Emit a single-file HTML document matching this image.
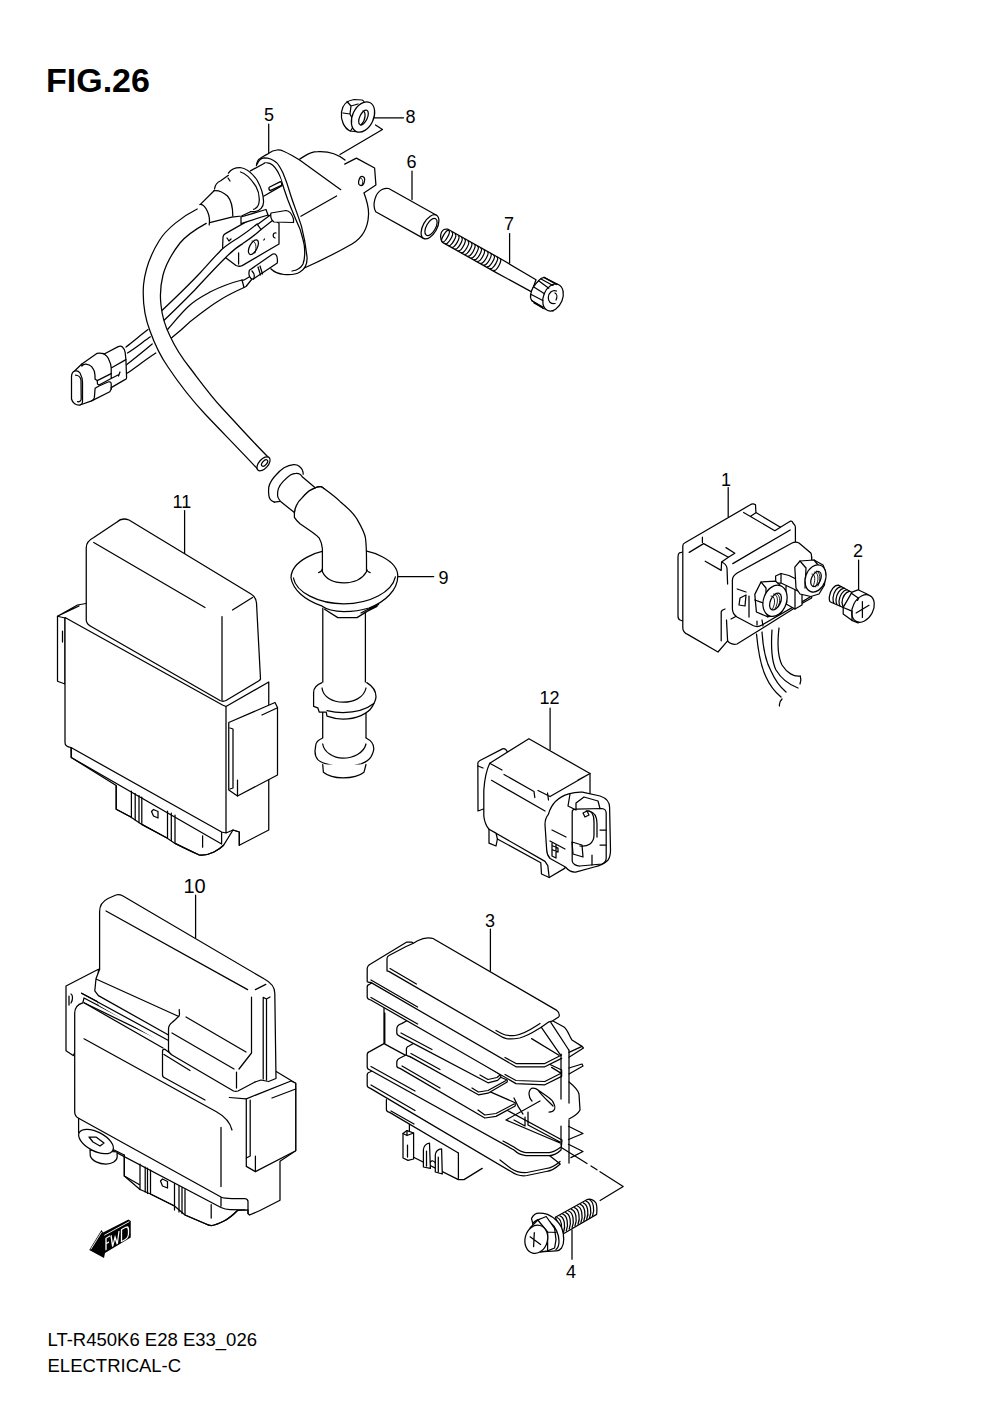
<!DOCTYPE html>
<html><head><meta charset="utf-8"><style>
html,body{margin:0;padding:0;background:#fff;}
body{width:1000px;height:1414px;overflow:hidden;position:relative;}
svg{position:absolute;left:0;top:0;}
.t{font-family:"Liberation Sans",sans-serif;fill:#000;}
.s{fill:none;stroke:#000;stroke-width:1.25;stroke-linecap:round;stroke-linejoin:round;}
.w{fill:#fff;stroke:#000;stroke-width:1.25;stroke-linecap:round;stroke-linejoin:round;}
</style></head><body>
<svg width="1000" height="1414" viewBox="0 0 1000 1414">
<g class="t">
<text x="46" y="91.5" font-size="34" font-weight="bold">FIG.26</text>
<text x="264" y="121" font-size="18">5</text>
<text x="405.5" y="122.5" font-size="18">8</text>
<text x="406.5" y="167.5" font-size="18">6</text>
<text x="504" y="230" font-size="18">7</text>
<text x="172.5" y="508" font-size="18">11</text>
<text x="438.5" y="583.5" font-size="18">9</text>
<text x="721" y="485.5" font-size="18">1</text>
<text x="853" y="556.5" font-size="18">2</text>
<text x="539.5" y="703.5" font-size="18">12</text>
<text x="183.5" y="893" font-size="20">10</text>
<text x="485" y="926.5" font-size="18">3</text>
<text x="566" y="1277.5" font-size="18">4</text>
<text x="47.5" y="1345.6" font-size="18.5">LT-R450K6 E28 E33_026</text>
<text x="47.5" y="1372" font-size="18.5">ELECTRICAL-C</text>
</g>
<g class="s">
<!-- leaders -->
<path d="M268.7,124 L268.7,153"/>
<path d="M374,117.8 L403.5,117.8"/>
<path d="M412,171 L412,199.5"/>
<path d="M509.6,233.6 L509.6,263"/>
<path d="M340,154.5 L382.5,129.5 L375.5,125"/>
</g>
<!-- coil body -->
<g class="s">
<path class="w" d="M299.6,159.2 C303,157 307,154 310.8,152.8 C313,152 315.5,151.6 318,151.6 C333,151 347,160 356,174 C364,187 369,202 368.5,215 C368,228 362,238 352,244 C338,252 318,262 300,270 L289,274.5 Z" style="stroke:none"/>
<path d="M299.6,159.2 C303,157 307,154 310.8,152.8 C313,152 315.5,151.6 318,151.6 C330,151 339,155 345,160 M364,193 C367,201 369,208 368.5,215 C368,228 362,238 352,244 C338,252 318,262 300,270 L292,274"/>
<path class="w" d="M344.7,164.1 L356.4,158.1 L374.6,168 L375.9,184.9 L364.2,192.7 C362,190 360,186 358,183 Z" style="stroke:none"/>
<path d="M344.7,164.1 L356.4,158.1 L374.6,168 L375.9,184.9 L364.2,192.7"/>
<ellipse cx="361.6" cy="181" rx="2.8" ry="4.6" transform="rotate(15 361.6 181)"/>
<path d="M360.5,178 C362.5,178 363.5,182 362,185" style="stroke-width:0.9"/>
<!-- dome + ring -->
<path class="w" d="M256.4,165.6 C257,161 258,159.5 260,158.5 C263,156.5 266,154.5 268.4,153.6 C271,151.5 274,150.2 277.2,150 C280,149.8 282,150.5 283.6,151.2 C286,152.3 289,153.8 291.6,155.2 L299.6,160 L340.8,189.7 L336.6,196 L300.9,216.3 L307,257 C307.5,264 305,269 300,272 C296,274.5 290,275 284,274.5 C279,274 274,272 270.8,268.8 Z" style="stroke:none"/>
<path d="M256.4,165.6 C257,161 258,159.5 260,158.5 C263,156.5 266,154.5 268.4,153.6 C271,151.5 274,150.2 277.2,150 C280,149.8 282,150.5 283.6,151.2 C286,152.3 289,153.8 291.6,155.2 L299.6,160 L340.8,189.7"/>
<path d="M257.2,164 C259,160 261,158 264,157.8 C268,157.8 273,159.5 276.4,162.4 C279,165 281,169 283,173 C286,180 288,186 290,193 C293,203 298,215 301.6,226.8 C304,236 306,247 307,257 C307.5,264 305,269 300,272 C296,274.5 290,275 284,274.5 C279,274 274,272 270.8,268.8"/>
<path d="M264.4,163.2 C267,162.5 270,163 272.5,165 C276,168 279,173 281.2,180 C283,186 285,192 287.6,199.2 C291,208 296,220 300.2,229.6 C302,236 304,242 304.4,246.4 C305,253 305,259 303,264 C301,268 297,270.5 292,271"/>
<path d="M300.9,216.3 L336.6,196"/>
<!-- collar -->
<path class="w" d="M250.4,170.9 L264.4,163.2 C270,163 276,168 281,180 L282,185.6 L263.6,196.2 Z" style="stroke:none"/>
<path d="M250.4,170.9 L264.4,163.2 M263.6,196.2 L282,185.6"/>
<path d="M269.2,187.2 L280.4,181.6 C281.5,182 282,184 281.5,185.3 L270.2,190.6 C269,190 268.7,188.5 269.2,187.2 Z"/>
</g>
<g class="s">
<!-- boot flange -->
<path class="w" d="M228.4,173.1 C231,169 235,167.5 240,167.5 C246,168 252,173 257,180 C261,187 263.5,195 263.6,201.7 C263.5,207 260,211 255,211.6 L250.4,211.6 L240,214 Z" style="stroke:none"/>
<path d="M228.4,173.1 C231,169 235,167.5 240,167.5 C246,168 252,173 257,180 C261,187 263.5,195 263.6,201.7 C263.5,207 260,211 255,211.6 L250.4,211.6"/>
<path d="M240.5,172 C245,173 251,179 255.9,186.3 C258.5,191 259.5,197 259.2,201 C259,205 257,208 253.7,209.4"/>
<!-- boot -->
<path class="w" d="M200.9,203.9 L214.1,190.7 L214.5,189 C215,185 218,182 220.7,180.8 L228.4,175.3 L240,214 L231.7,217.1 L209.7,222.6 C210,216 208,209 200.9,203.9 Z" style="stroke:none"/>
<path d="M200.9,203.9 L214.1,190.7 M214.5,189 C215,185 218,182 220.7,180.8 L228.4,175.3"/>
<path d="M214.1,190.7 C219,190 224,192.9 227.5,196 C231,200 232.8,207 232.8,216"/>
<path d="M209.7,222.6 L231.7,217.1 L241.6,216 L250,212"/>
<path d="M199.8,204.5 C202,204 205,206 207.5,211.6 C209,215 210,220 209.2,224.8"/>
<path d="M228,178 L230,181"/>
</g>
<!-- terminal block -->
<g class="s">
<path class="w" d="M223,236.8 C223.5,235 224.5,234 225.4,233.6 L262.2,212.8 L264.6,212.8 L279,223.2 L279,244 L242.2,265.6 C240,266.5 238,266.5 236,265.5 L225.4,257.6 C223.5,255 222.6,252 222.6,248 Z"/>
<ellipse cx="253.4" cy="247.2" rx="3.8" ry="8" transform="rotate(28 253.4 247.2)"/>
<path d="M252,241 C256,241 257,247 255,253" style="stroke-width:0.9"/>
<path d="M238.6,252.8 L238.6,264 M263.8,240 L264.5,239 M276,233 C273,232 272,237 275,238 M227,238 L229,241 L231,239"/>
</g>
<!-- wires (behind HT cable) -->
<g class="s">
<path class="w" d="M155,317 C170,303 185,289 200,273 C210,262 218,253 222,249.2 C228,244 233,241 238,238 C244,234 251,229 256.4,224.4 C259,223 261.5,225 261.5,227.5 C261.5,229 260.8,230 259.6,230.8 C254,236 248,240 242.8,243.6 C237,247 231,252 225.2,258 C215,268 205,279 194.8,290 C184,301 172,313 158,326 Z"/>
<path class="w" d="M160,338 L168,329 C175,321 182,312 190,305 C198,298 205,295 210,292 C220,287 230,283 242,280 L244,287.5 C232,293 226,296 220,300 C213,304 207,309 200,314 C193,319 187,324 181,330 L163,345 Z"/>
<path d="M126,347 C135,340 142,334 148,329.6"/>
<path d="M127.5,353 C137,347 144,341 150.4,336.8"/>
<path d="M125.9,365.2 C135,358.2 145,350 152.2,344"/>
<path d="M126.6,373.6 C135,368 145,360 155.8,353"/>
</g>
<!-- HT cable -->
<g class="s">
<path d="M197.2,209 C183,216 166,229 159,241 C151,254 145,270 143.5,285 C142.5,300 145,318 150,331 C155,345 161,357 168,367 C178,382 190,398 205,414 C222,432 240,450 258.5,470 L268.5,457.5 C251,440 236,423 222,408 C210,395 200,381 190,368 C182,358 175,347 170,336 C165,326 162,316 161,305 C160,297 160.5,285 163,275 C166,264 173,252 180,243 C186,236 196,229 206.2,223.4 Z" style="fill:#fff;stroke:none"/>
<path d="M197.2,209 C183,216 166,229 159,241 C151,254 145,270 143.5,285 C142.5,300 145,318 150,331 C155,345 161,357 168,367 C178,382 190,398 205,414 C222,432 240,450 258.5,470"/>
<path d="M268.5,457.5 C251,440 236,423 222,408 C210,395 200,381 190,368 C182,358 175,347 170,336 C165,326 162,316 161,305 C160,297 160.5,285 163,275 C166,264 173,252 180,243 C186,236 196,229 206.2,223.4"/>
<ellipse cx="263.5" cy="463.8" rx="4.6" ry="8.4" transform="rotate(42 263.5 463.8)" class="w"/>
<ellipse cx="264.6" cy="463" rx="2.1" ry="3.9" transform="rotate(42 264.6 463)"/>
</g>
<!-- connector -->
<g class="s">
<path class="w" d="M74.8,370.8 L81.8,364 L97.2,353.3 C99,352.8 101,352.8 104.2,354 L118.2,346.6 C120,346 121.5,346.2 122.4,347 C124,348.5 125,350.5 125.2,352.6 L125.9,359.6 L126.6,377.8 C126.6,379 125.8,379.7 124.5,379.9 L111.2,387.6 L111.2,389 L109.8,391.8 L91.6,400.9 L80,405 C76,405.5 72.5,403 71.5,399 L71.5,377 C71.5,373.5 73,371.5 74.8,370.8 Z"/>
<path d="M75,371 C77,370.5 79,371.5 80,373 C81.5,376 82.5,379 82.5,382 L82.5,402 C82.5,403.5 81.5,404.5 80,405"/>
<path d="M75.5,375 C78,375 80.5,377 81,380 L81.2,399 C81,401 79.5,402 77.5,401.7"/>
<path d="M81.8,364 L81.8,366 C83,364.5 85,364 86,364.1 C88.5,364.5 90.5,365.5 91.6,366.6 C93,368.5 94,370 94.4,371.5 C95,374 95.1,377 95.1,379.2 L97.2,380.6 L111.2,373.6"/>
<path d="M102.8,353.3 C106,355 108.5,358 109.1,360.3 C110.5,363 111.2,366 111.2,368 L111.2,373.6 M111.2,368 L125.9,359.6"/>
<path d="M97.2,380.6 L97.5,384 L99,385 L111.2,378.5 L111.2,373.6 M111.2,378.5 L118,375 M120,372 L118.5,376"/>
<path d="M95.1,388.3 L94.4,397.4 C94,399.5 93,400.5 91.6,400.9 M95.1,388.3 L99,386 L108,382 C110,381.5 111.2,382 111.2,384 L111.2,389"/>
</g>
<!-- terminal sleeves -->
<path class="w" d="M241,217 L266,209.5 L268,215 L241,223.6 Z"/>
<path class="w" d="M257.5,224.6 L271,214.5 L272.5,220.5 L261,229.5 Z"/>
<path class="s" d="M242,280 L244,280 L250,276.5 M244,287.5 L246,286.5 L252,279"/>
<g class="w">
<path d="M271,213 L286,210.5 C290,211 292,214 293.5,219 L293.5,222.5 L274,222 C271,220 270,216 271,213 Z"/>
<path d="M249.4,270.2 L272.8,254 C276,253 278,256 277.3,263 L253,279.2 C250,279 248,275 249.4,270.2 Z"/>
<path class="s" d="M252,271 C254,273 255,276 253.5,279 M258,267 L260.5,275 M260,266 L262.5,274"/>
</g>
<!-- nut 8 -->
<g class="s">
<path class="w" d="M350,131 C344,128 340.5,120 341.5,112 C342.5,105 347,100.5 354,99.5 L362,100 C368,101 366,130 358,132 Z"/>
<path d="M347,101.5 L351,106 L350,114 L343,113 M350,114 L355,124 L350.5,131 M351,106 L358,104"/>
<ellipse class="w" cx="363" cy="117" rx="10.5" ry="16" transform="rotate(25 363 117)"/>
<ellipse cx="363.5" cy="117.5" rx="3.8" ry="8" transform="rotate(25 363.5 117.5)"/>
<path d="M363,111 C366,112 366,120 361,125"/>
</g>
<!-- spacer 6 -->
<g class="s">
<path class="w" d="M388.7,188.5 L436.5,215.2 L423.5,238.4 L375.7,211.7 C372,205 375,193 382,189.5 C384,188.5 386,188 388.7,188.5 Z"/>
<ellipse class="w" cx="430" cy="226.8" rx="7" ry="13.3" transform="rotate(29.2 430 226.8)"/>
<ellipse cx="431" cy="227" rx="4.6" ry="9.5" transform="rotate(29.2 431 227)"/>
</g>
<!-- bolt 7 -->
<g class="s">
<path class="w" d="M448,229.2 L501,259 L536,279.8 L531.6,291.9 L495.3,272.1 L442.5,242.4 C440,240 439.5,232 444,229.5 C445,229 446.5,229 448,229.2 Z"/>
<g id="thr">
<ellipse cx="445.5" cy="236.2" rx="2.2" ry="6.6" transform="rotate(29.4 445.5 236.2)"/>
<path d="M452.0,232.2 A2.2,6.6 29.4 0 1 445.5,243.7"/>
<path d="M455.2,234.0 A2.2,6.6 29.4 0 1 448.7,245.5"/>
<path d="M458.4,235.8 A2.2,6.6 29.4 0 1 451.9,247.3"/>
<path d="M461.6,237.5 A2.2,6.6 29.4 0 1 455.1,249.0"/>
<path d="M464.8,239.3 A2.2,6.6 29.4 0 1 458.4,250.8"/>
<path d="M468.1,241.1 A2.2,6.6 29.4 0 1 461.6,252.6"/>
<path d="M471.3,242.8 A2.2,6.6 29.4 0 1 464.8,254.3"/>
<path d="M474.5,244.6 A2.2,6.6 29.4 0 1 468.0,256.1"/>
<path d="M477.7,246.4 A2.2,6.6 29.4 0 1 471.2,257.9"/>
<path d="M480.9,248.1 A2.2,6.6 29.4 0 1 474.4,259.6"/>
<path d="M484.1,249.9 A2.2,6.6 29.4 0 1 477.7,261.4"/>
<path d="M487.4,251.7 A2.2,6.6 29.4 0 1 480.9,263.2"/>
<path d="M490.6,253.4 A2.2,6.6 29.4 0 1 484.1,264.9"/>
<path d="M493.8,255.2 A2.2,6.6 29.4 0 1 487.3,266.7"/>
<path d="M497.0,257.0 A2.2,6.6 29.4 0 1 490.5,268.5"/>
<path d="M500.2,258.7 A2.2,6.6 29.4 0 1 493.8,270.3"/>
</g>
<path class="w" d="M544,277.4 L557.2,284 L563,292 L553,311 L543.4,308.5 L532,300.8 C530.5,299 530.3,296 530.8,294 C531.5,289 534,285 538.6,280.7 C540,279 542,277.8 544,277.4 Z"/>
<ellipse class="w" cx="553" cy="297.5" rx="9.6" ry="14" transform="rotate(22 553 297.5)"/>
<path d="M538.6,280.7 L548.8,288.2 M544,277.4 L556.5,284.5 M541,279 L553,285.5 M533.8,287 L544.5,293.8 M530.8,294.2 L542.8,300.5 M532,300.8 L542.8,307 M534,303 L543,308"/>
<path d="M556.5,291 C552,289.5 548.5,293 548.3,297.5 C548.2,301.5 550.5,304 555,303.5 M555,293 C557,294 557.5,297 556,300"/>
</g>
<!-- plug cap 9 -->
<g class="s">
<path d="M398,576.6 L433.7,576.6"/>
<!-- tube below -->
<path d="M322.8,608 L322.8,690 M365.4,612 L365.4,690"/>
<path d="M322.7,712 L322.7,745 M366,710 L366,745"/>
<path d="M324.6,609.2 L337.8,617.6 L357,617.6 L378.6,604.4 M361,613 L375,605.5 M364,613 L377,606.5"/>
<!-- ring 1 -->
<path class="w" d="M322,682.6 C316,685 313.6,688 313.6,692.4 L313.6,706.4 L317.8,707.8 L319.2,712 L326.2,712 L327,716.2 C333,718.5 338,719 343,719 C356,719 368,714 372.4,706.4 C375,702 376,699 376,696.6 C376,692 374,687 366.8,682.6"/>
<path d="M322,688 C323,697 333,702.2 343,702.2 C353,702.2 364,698 366,688"/>
<path d="M327,710.6 C333,712 338,712.5 343,712.5 C356,712.5 367,709 373.8,703.6"/>
<!-- ring 2 -->
<path class="w" d="M322.7,738 C318,740 315.7,743 315.7,745.6 L315,751.2 C315,755 316,757.5 317.8,759.6 C320,762 323,763 326.2,763.8 C331,765.5 337,766.6 343,766.6 C350,766.6 356,765.5 361.2,763.8 C366,762 369,760 371,756.8 C373,753 373.8,751 373.8,748.4 C373.8,744 370,740 366,738"/>
<path d="M322.7,744 C324,752 333,758.2 343,758.2 C353,758.2 364,753 366,744"/>
<!-- end -->
<path class="w" d="M322.7,764.5 L323.4,772.2 C328,776 335,777.8 343,777.8 C352,777.8 360,775.5 364,772.2 L366,764.5"/>
<!-- flange disc -->
<path class="w" d="M291,578 C291,562 315,548.7 344.5,548.7 C374,548.7 397.8,561 397.8,576 C397.8,590 385,602 369,608 C361,610.5 352,611.6 343.8,611.6 C335,611.6 327,610 321,605.6 C305,600 293,590 291,578 Z"/>
<path d="M293.4,578 C296,592 318,603.8 343.8,603.8 C370,603.8 392,592 395.4,576.8"/>
<!-- stalk -->
<path class="w" d="M324,488.6 C330,493 336,497.5 340,501.4 C348,508 354,514 357.1,519.3 C361,526 364.5,532 365.5,538.2 C366.3,545 366.5,552 366.5,560 L366.5,571.8 C362,579.5 353,582.8 344,582.8 C335,582.8 326,579.5 322.4,571.8 L322.4,548.7 C322,545 321,541 319.3,538.2 C318.5,537 316,535 312,532 L300,523.8 C298,522 296,520 294.4,517.4 L294.4,512.6 C294.8,509.5 295.3,507.8 296,506.2 C297.5,502.5 300,499.5 302.4,497.4 C304.5,495 306.5,493 308.8,491 C311,489.5 313,488.4 315.2,487.8 C317,487 319,486.4 320.8,486.6 C322,486.8 323,487.5 324,488.6 Z"/>
<path d="M318.6,572.6 C320.5,572 322,570.5 322.4,569 M370.2,572.6 C368,572 366.8,570.5 366.5,569"/>
<!-- neck -->
<path d="M301.6,476.2 L315.2,487.8 C311,489 306,493 302.4,497.4 C299,501 296.5,505 294.4,512.6 L280,501 Z" style="fill:#fff;stroke:none"/>
<path d="M301.6,476.2 L315.2,487.8 M280,501 L294.4,512.6"/>
<path d="M294.4,512.6 C294.8,509.5 295.3,507.8 296,506.2 C297.5,502.5 300,499.5 302.4,497.4 C304.5,495 306.5,493 308.8,491 C311,489.5 313,488.4 315.2,487.8 C317,487 319,486.4 320.8,486.6 C322,486.8 323,487.5 324,488.6"/>
<!-- flange -->
<path d="M274.4,502.2 C271,501 269,498 268.8,495 C268.5,492 268.5,489 268.8,487 C270,482 273,478 276,475 C279,471.5 281.5,469.5 284,467.8 C287,466 290,464.8 293.6,464.6 C296,464.5 298,465.2 299.2,466.2 C300.8,467.5 302,468.8 302.4,470.2 C303,471.5 303.3,473 303.2,474.2 L301.6,476.2 L280,501.4 Z" style="fill:#fff;stroke:none"/>
<path d="M274.4,502.2 C271,501 269,498 268.8,495 C268.5,492 268.5,489 268.8,487 C270,482 273,478 276,475 C279,471.5 281.5,469.5 284,467.8 C287,466 290,464.8 293.6,464.6 C296,464.5 298,465.2 299.2,466.2 C300.8,467.5 302,468.8 302.4,470.2 C303,471.5 303.3,473 303.2,474.2"/>
<path d="M274.4,502.2 L280,501.4"/>
<path d="M280,500.6 C278.5,499 277.7,497.5 277.6,495.8 C277.5,493 277.7,490.5 278.4,488.6 C279.5,485.5 281.2,483.5 283.2,481.4 C285.5,479 287.8,476.8 290.4,475 C292,474 294,473.4 296,473.4 C297.5,473.3 299,473.6 300,474.2 C300.8,474.7 301.3,475.2 301.6,475.8"/>
</g>
<!-- ECU 11 -->
<g class="s">
<path d="M184.6,510.5 L184.6,553.5"/>
<!-- left flange -->
<path class="w" d="M65,618 L57.5,616.25 L57.5,681.25 L65,684 Z"/>
<path d="M57.5,616.25 L77.5,605 L86,603.5 M59,615.5 L79,606 M62.5,631 L62.5,642"/>
<!-- main front face -->
<path class="w" d="M65,617.5 L222.5,705 L226,706.5 L268.75,682 L268.75,830 L239.3,845.3 L239.3,832 L233,830 L223.5,845.3 C220,849 216,851 214,852 C209,854.5 204,855.5 198.8,854.8 L175,843.4 L166.5,837.7 L141.8,824.4 L130.4,816.8 L116.2,809.2 L116.2,785.5 L71.25,757.5 L71,747.5 C67,747 65,745 65,742.5 Z"/>
<path d="M226,706.5 L226,832.5 M71,747.5 L221.6,832 L226,833 L233,830 L239.3,832 L239.3,845.3 M71.25,747.5 L71.25,757.5 L221.6,844 M221.6,832 L221.6,844"/>
<!-- connectors -->
<path d="M116.2,785.5 L116.2,809.2 L130.4,816.8 M131.4,791 L131.4,817.5 M135.2,793.5 L135.2,820 M139,795.5 L139,822.5 M141.8,797 L141.8,824.4 L166.5,837.7 M167.5,811 L167.5,838 M171.3,813 L171.3,840.5 M175,815 L175,843.4 C182,847 190,851 198.8,854.8 C204,855.5 209,854.5 214,852 C216,851 220,849 223.5,845.3 M202.6,835.8 L202.6,847.2"/>
<path d="M151.5,811.5 L153.5,809.5 L158,811.5 L158,818 L153.5,816 Z"/>
<!-- side box -->
<path class="w" d="M228.75,722.5 L275,702.5 L277.5,707.5 L277.5,775 L237.5,796 L228.75,790 Z"/>
<path d="M230,728 L233,729 L233,788 L230,789 M237.5,796 L237.5,780 M262,715 L277,708"/>
<!-- top cover -->
<path class="w" d="M86.25,620 L86.25,547.5 C86.25,543 89,540 93.75,537.5 L117,522 C120,519 125,518.5 129,520 L251,594 C254.5,596 256,599 256.5,603 L260.5,679 C260,680.5 258,681.5 256,682.5 L226,700.5 C224,701.5 222,701.5 220,700.5 L92,627 C88,625 86.25,623 86.25,620 Z"/>
<path d="M93.75,542.5 L205,607.5 M232.5,610 L252.5,597.5 M222,616.5 L222,700"/>
</g>
<!-- relay 1 -->
<g class="s">
<path d="M728.2,487.6 L728.2,516.8"/>
<!-- wires -->
<path d="M756.5,634 C758,650 760,665 766,677 C770,686 775,692 781,697 M782,699 C780,701 779,703 779.5,706"/>
<path d="M762,632 C763,648 766,662 771,671 C775,680 780,687 786,692"/>
<path d="M772,630 C771,645 771,660 776,670 C782,680 790,685 798,688"/>
<path d="M779,628 C777,645 778,657 782,665 C787,673 794,677 800,676 M800.3,676 C801,678 801,681 800,684"/>
<!-- left plate -->
<path class="w" d="M682.8,552 L679.5,552.8 C678.3,553.5 678,555 678,557 L678,616 C678,618 678.5,619.5 680,620 L682.8,621"/>
<!-- main box -->
<path class="w" d="M682.8,546 C682.8,544.5 683.5,543.5 685,542.8 L750.3,504.8 C751.5,504 753.5,503.5 755.5,504.8 L755.9,512.5 L780.4,527.2 L790.2,521.2 C791.5,520.8 792.5,521.5 793,523 C794.5,524.5 795.4,526 795.4,527.2 L795.4,544 L808,551 C810,552 811.6,554 811.6,557.6 L811.6,598 L801,604 L762.8,628 L737,644 C733,645 729,643 727.6,640.8 L718,652 L687.6,634.4 C684.5,633 682.8,631 682.8,628 Z"/>
<path d="M743.6,512.5 L774.8,530.7 L780.4,527.2 M751,516 L755.9,512.8 M732.8,563.6 L790.2,530 M689.2,552.4 L703.6,543.6 M702.4,537.2 L702.4,542.4 M703.6,543.6 L728.4,557.2 L734.8,553.2 L726,547.6 M705.2,561.2 L721.2,570.4 L721.6,562 L728.4,557.2 M721.6,562 C724,563 726.5,565 727,568 L727.6,584"/>
<!-- lower block -->
<path d="M721.2,612 L721.2,640.8 M725,609 C722,610 721.2,611 721.2,612 M727.6,640.8 L726.5,620 M731,619 L750,609"/>
<!-- terminal block -->
<path class="w" d="M732.4,580 C732.4,577 734,575 737.2,573 L791.6,543.2 C794,542 797,542 799,543 L810.8,553 C811.5,554 811.6,556 811.6,557.6 L811.6,596 L801.2,602.4 L762,625 C759,627 756,627 753,625.5 L737,617 C734,615 732.4,612 732.4,608.8 Z"/>
<path d="M737.2,589 L746,592 M740,598 L746,595 L745,606 L739,605 Z M749,596 L749,617 M757,621 L757,625 M762,620 L763,626"/>
<!-- latch -->
<path class="w" d="M775.6,576 L781,573.5 L789,575.5 L800,581 L802,584 L802,605 L795,609 L779,600 L776,595 Z"/>
<path d="M781,573.5 L781,583 L775.6,583 M781,583 L800,592 M786,586 L786,603 M795,590 L795,609"/>
<!-- right nut -->
<path class="w" d="M794.8,567.2 L800,561 L814,560 L823,565 L825.2,570.4 L824.5,585 L819,594 L810.8,596.5 L800,594 L796,588 Z"/>
<path d="M800,561 L806,568 L805,588 M814,560 L818,565"/>
<ellipse class="w" cx="815.5" cy="578.4" rx="10" ry="14" transform="rotate(20 815.5 578.4)"/>
<ellipse cx="816" cy="579" rx="4.5" ry="8" transform="rotate(25 816 579)"/>
<path d="M814.5,572 C818.5,572 819.5,580 815.5,587 M812,574 C815,573.5 816,580 813,586.5 M816.5,571 C820.5,572 821,580 818,586" style="stroke-width:0.9"/>
<!-- left nut -->
<path class="w" d="M754.8,594.4 L761,582 L775.6,581.2 L785.2,589.6 L786.8,602.4 L780.4,613.6 L767.6,616.8 L756.4,612 Z"/>
<path d="M761,582 L766,588 L766,610 L767.6,616.8 M754.8,600 L766,604"/>
<ellipse class="w" cx="775" cy="600.8" rx="11.5" ry="16" transform="rotate(20 775 600.8)"/>
<ellipse cx="775.5" cy="601.5" rx="5" ry="9" transform="rotate(25 775.5 601.5)"/>
<path d="M773.5,594 C778,594 779,602 775,609 M771,596 C775,595.5 776,603 772.5,609 M776,593.5 C780,594.5 781,601 778,607" style="stroke-width:0.9"/>
</g>
<!-- bolt 2 -->
<g class="s">
<path d="M858.6,560 L858.6,590.5"/>
<path class="w" d="M838.8,585.2 C834,585 830.5,590 829.4,596.5 C829,600 829.5,601.5 830.5,602 L843.2,607.5 L852.5,592.7 Z"/>
<path d="M841.5,586.7 C837,587 833.5,592 833,598 C833,600.5 833.3,602.5 834,603.3 M844.2,588.2 C839.5,589 836.5,594 836,599.5 C836,602 836.3,603.8 837,604.6 M846.9,589.7 C842.5,590.5 839.5,596 839,601 C839,603.5 839.3,605 840,605.9 M849.6,591.2 C845.5,592.5 842.5,597 842,602.5 L843.2,607.5"/>
<path class="w" d="M852,592.1 L858,589.8 L867,594 L873,600.5 L872,612 L858,622.9 L852.5,620.7 L843.2,614.1 L843.2,607.5 Z"/>
<ellipse class="w" cx="863" cy="608.5" rx="10.2" ry="14.6" transform="rotate(28 863 608.5)"/>
<path d="M843.2,607.5 L851.4,610.8 M852,611 L852,620.5 M851.4,593.2 L858.6,598.2 L857.5,600.4"/>
<path d="M862.4,601.5 L862.4,617.4 M856.1,613 L869,605.3"/>
</g>
<!-- connector 12 -->
<g class="s">
<path d="M550.1,708 L550.1,749.7"/>
<!-- back flange -->
<path class="w" d="M477.85,763 C477.85,762 478.5,761.3 480,760.5 L502.5,748.9 C504,748.3 506,749 507.6,752.3 L507.6,800 L478,811 L477.85,763 Z"/>
<path d="M478,766 L483,768"/>
<!-- body -->
<path class="w" d="M489.75,763.3 L528.9,738.7 L590,773.5 L590,808 L575,850 L564.6,868.4 L549.2,877.5 L541.5,874 L540.8,862.8 L497.4,839 L496,846 L489,843.2 L489,829.2 C486,826 484.5,822 483.8,816 L483.8,790.5 C484.5,780 486,771 489.75,763.3 Z"/>
<path d="M489.75,763.3 L502,770 M504,774.5 L534,791.5 L534.8,797.5 M538,790.5 L550.1,796.5 L590,773.5 M547.5,793 L548.5,800 M578,780 L590,773.5"/>
<path d="M491.5,780.3 L545,811"/>
<path d="M489,829.2 L545,861.4 L547.8,865.6 L549.2,877.5 M489,829.2 L496,833 L497.4,839"/>
<!-- front socket -->
<path class="w" d="M548.4,814.3 C551,805 558,797 568.8,793.9 C574,792.3 578,792 582.4,792.2 L600,796 C606,798 609.6,802 609.6,807.5 L610.5,850 C610.5,855 609.5,858 607.9,860.2 C604,864 599,866 594.3,867 L575.6,872.1 C571,872.5 568,870 565.4,867 L550.1,858.5 C547,855 546.7,852 546.7,850 L545,824.5 C545,820 546,817 548.4,814.3 Z"/>
<path d="M572.2,812 C572.2,810 574,809.2 576,809.2 L602,808.5 C604.5,808.5 606.2,810.5 606.2,813 L606.2,858 C606.2,861 604.5,863 602,864 L580,866 C576,866 572.5,864 572.2,861 Z"/>
<path d="M576,810 L576,803 L584,797 L598,801 L600,808.5 M570,794 L568,806 L576,810"/>
<path d="M586,811 C592,810 594,815 594,822 L594,835 C594,843 588,847 580,846"/>
<path d="M589,811 C595,812 597,817 597,824 L597,837"/>
<path d="M583,813 L587,811 L589,815 L585,817 Z"/>
<path d="M572,842 L582,845 L583,857 L573,854 Z"/>
<path d="M592,865 L592,855 M600,845 L606,845 M600,830 L606,830 M552,830 L566,837 M550,841 L565,849 M552,843 L552,856 L556,858 L556,845 M553,846 L558,848 L558,852 L553,850"/>
</g>
<!-- ECU 10 -->
<g class="s">
<path d="M195.6,895 L195.6,937.6"/>
<!-- back plate -->
<path class="w" d="M66,986 L98.4,969.2 L98.4,1010 L73.2,1055.6 L66,1050.8 Z"/>
<path d="M69,996 L69,1005 M71,994 C73,995 73,1000 71,1003"/>
<!-- main body -->
<path class="w" d="M74.7,1013 C74.7,1008 77,1004.5 82.8,1002.8 L84,998 L246,1083 L276.2,1071.5 L295.7,1083.2 L295.7,1150.8 L280,1161.2 L280,1200.2 L260,1210.5 L249.5,1215 L248,1213.5 L248,1209.8 L237.5,1210.5 C233,1215 228,1219 224,1221 C220,1223 216,1225 212,1225.5 C209,1225.8 207.5,1225 206,1224 L185,1215 L174.5,1206 L150.5,1194 L140,1189.5 L124.3,1176 L124.3,1155 L78.6,1132.6 L78.6,1118.3 C76,1117 74.7,1115 74.7,1111.8 Z"/>
<path d="M78.6,1118.3 L221,1197 C224,1198.5 227,1198.5 232,1198.5 L245,1198.5 C247,1199 248,1200 248,1201.5 L248,1213.5 M78.6,1132.6 L221,1207.5 C223,1208.5 226,1209.5 230,1209.5 L245,1209.8 M221,1197 L221,1206"/>
<path d="M84,1038.8 L216.4,1111.8 C224,1116 230,1122 232,1130 M221,1127.4 L221,1186.5"/>
<path d="M81.6,993.2 L168,1038.8 M84,1002.8 L168,1043.6"/>
<!-- connectors -->
<path d="M124.3,1155 L124.3,1176 L140,1185 M140,1164 L140,1189.5 M145.2,1167 L145.2,1192 M147.5,1168 L147.5,1193.5 M150.5,1170 L150.5,1194 L174.5,1206 M174.5,1183.5 L174.5,1210 M179,1186 L179,1212 M182,1187.5 L182,1213.5 M185,1189.5 L185,1215 L206,1224 C208,1225 210,1225.5 212,1225.5 C216,1225 220,1223 224,1221 C228,1219 233,1215 237.5,1210.5 M211.2,1204.5 L211.2,1218"/>
<path d="M160.5,1181 L162.5,1179 L167.5,1181.5 L167.5,1188 L162.5,1186 Z"/>
<!-- right box -->
<path class="w" d="M246.3,1098.8 L291,1081 L295.7,1083.2 L295.7,1150.8 L255.4,1171.6 L246.3,1166.4 Z"/>
<path d="M229.4,1097.5 L246.3,1098.8 M250.2,1100 L250.2,1156 L246.3,1158 M295.7,1089 L272,1098 M255.4,1171.6 L255.4,1156"/>
<!-- round tab -->
<path class="w" d="M90,1150 L90.3,1156 C92,1161 99,1164 106,1164 C112,1164 117,1161 117.2,1157 L117,1152 Z"/>
<ellipse class="w" cx="96" cy="1141.5" rx="19" ry="9.5" transform="rotate(28 96 1141.5)"/>
<path d="M89,1137 L96,1137 L104,1143 L100,1146 L93,1142 Z"/>
<!-- cover -->
<path d="M99.6,969.2 L99.6,911.6 C99.6,905 103,901 108,898.5 L116,895 C118,894.5 120,894.5 123,896 L264,978.8 C270,982 274.8,987 274.8,993.2 L276,1078.5 L268.5,1081.5 L261,1080 L255,1082 L238,1091 C236.5,1091.6 235,1091.6 233.5,1091 L172,1055 L162.5,1050 L162.5,1043 L98.4,1005 L94.8,990.8 L96,978.8 Z" style="fill:#fff;stroke:none"/>
<path d="M99.6,969.2 L99.6,911.6 C99.6,905 103,901 108,898.5 L116,895 C118,894.5 120,894.5 123,896 L264,978.8 C270,982 274.8,987 274.8,993.2 L276,1078.5 L268.5,1081.5 L261,1080 L255,1082"/>
<path d="M99.6,969.2 L96,978.8 L94.8,990.8 L98.4,995.6 M96,979 L178.8,1016.5 M98.4,995.6 L168.5,1035"/>
<path d="M81.6,993.2 L168.5,1040.5 M84,1002.8 L163,1048"/>
<path d="M179.2,1009.5 L179.5,1015 C178,1017.5 175,1020 172,1022.5 C170,1024 168.5,1026 168.5,1029 L168.5,1050 C168.5,1052 169.5,1053.5 172,1055 L233.5,1091 C235,1091.6 236.5,1091.6 238,1091 L255,1082"/>
<path d="M251.5,997 L251.5,1053 L239,1069 M236.5,1072 L236.5,1088 M172,1033 L234,1069 M186,1017 L246,1052 M106,911 L247.6,989.6 M255.4,989.6 L265.8,984.4"/>
<path d="M168.5,1052 L164.5,1049 C163.2,1049 162.5,1050 162.5,1051.5 L162.5,1075 C162.5,1076.5 163.5,1077.5 165,1078 L205,1100 M164,1054.5 L190,1070.5"/>
<path d="M263.2,997.4 L263.2,1079 M266.5,999 L266.5,1080 M263.2,997.4 L266.5,999 L270,997"/>
</g>
<!-- FWD arrow -->
<g>
<path d="M89.25,1250 L101.5,1230 L103,1232.5 L128.5,1219.5 L130.75,1221 L130.75,1237.5 L105,1253 L104,1258 Z" fill="#000"/>
<path d="M90.8,1249.3 L101.6,1232 M104.3,1235.3 L129.3,1221.6" stroke="#fff" stroke-width="0.9" fill="none"/>
<g transform="translate(104.5,1252) skewY(-29)" stroke="#fff" stroke-width="1.3" fill="none" stroke-linejoin="miter">
<path d="M1.5,-1 L1.5,-13 L5.5,-13 M1.5,-7.5 L4.5,-7.5"/>
<path d="M6.5,-13 L8.2,-1 L10.5,-9 L12.8,-1 L14.5,-13"/>
<path d="M17,-1 L17,-13 L20.5,-13 C23,-13 24,-11 24,-8.5 L24,-5.5 C24,-3 23,-1 20.5,-1 Z"/>
</g>
</g>
<!-- regulator 3 -->
<g class="s">
<path d="M490.4,929 L490.4,971"/>
<!-- dash-dot line -->
<path d="M550,1140.5 L587,1163.5 M591,1166 L597,1169.8 M600,1171.7 L623.2,1186.5 L600.1,1200.5"/>
<!-- base / body -->
<path d="M386.4,1099.6 L386.4,1109.2 C386.4,1111 387.5,1112 389.6,1112.4 L458.4,1153 M391,1111 L414,1124"/>
<path d="M409.4,1124.3 L409.4,1131 M413.6,1157.2 L458.4,1179.6 L464,1179.6 L482.2,1168.4 M458.4,1153 L458.4,1178.2"/>
<path d="M384,1001.5 L384,1043.6 M384.8,1013 L384.8,1050"/>
<!-- pins -->
<path class="w" d="M403,1133.5 L407,1130.6 L413.6,1133 L413.6,1159 L408,1160.4 L403,1158 Z"/>
<path d="M407,1130.6 L407,1135.5 L403,1133.5 M407,1135.5 L413.6,1133 M407.5,1145 L407.5,1157"/>
<path class="w" d="M423.4,1167 L423.4,1150 C423.4,1147 426,1143.2 429.5,1143.2 L430.4,1168.4 Z"/>
<path class="w" d="M435.3,1172 L435.3,1155 C435.3,1152 438,1148.8 441.6,1148.8 L442.3,1174 Z"/>
<path d="M426.5,1151 L426.5,1166 M438.3,1157 L438.3,1172 M430.4,1162 C432,1160 434,1161 435.3,1163"/>
<!-- F4 -->
<path class="w" d="M367.2,1075 C367.2,1073 368,1072.4 370,1072 L384,1064 L545,1152 L560.2,1164 C556,1168 551,1171 546.2,1171.5 L527,1175.5 C521,1176.5 516,1175 511,1171.5 L370.4,1088.4 C368,1087.5 367.2,1086.5 367.2,1085.2 Z"/>
<path d="M371,1085 L415,1110.5 M500,1160 L511,1168.5 C516,1172 521,1173 527,1172.5 L546.2,1168.5 C551,1168 556,1165 560,1161.5"/>
<!-- F3 -->
<path class="w" d="M367.2,1054.8 C367.2,1053 368,1052 369.6,1051.6 L384,1043.6 L562,1140 L561,1150 C558,1153 553,1155.6 549,1155.6 L526,1155.6 C521,1155 517,1153 514,1150 L370,1070 C368,1069.5 367.2,1068.5 367.2,1067 Z"/>
<path d="M371,1066.5 L415,1091 M503,1141 L514,1147 C518,1150 522,1152.5 526,1152.5 L549,1152.5 C553,1152.5 557,1150 561,1147"/>
<!-- small fin C -->
<path class="w" d="M396.8,1066 L396.8,1062 C396.8,1060 398,1059 400,1058 L406,1055 L515.2,1102.8 L515.2,1106 L496,1116.4 L484.8,1118 L400,1068.4 C398,1068 396.8,1067 396.8,1066 Z"/>
<path d="M402,1066 L440,1088 M478,1110 L484.8,1115 L496,1113.5 L514,1104"/>
<!-- small fin B -->
<path class="w" d="M406.4,1054.8 L406.4,1049 C406.4,1047.5 407.5,1046.5 409,1046 L416,1042 L507.2,1080 L507.2,1082 L488,1093.2 L478.4,1094.8 L409.6,1056.4 C407.5,1056 406.4,1055.5 406.4,1054.8 Z"/>
<path d="M411,1053.5 L440,1069.5 M472,1088 L478.4,1092 L488,1090.5 L506,1080.5"/>
<!-- small fin A -->
<path class="w" d="M396.8,1033 L396.8,1029 C396.8,1026.5 398.5,1024.5 401.6,1023.6 L410,1019 L500.8,1075 L500.8,1077.2 L497.6,1080.4 L488,1082.8 L400,1036.4 C398,1035.5 396.8,1034.5 396.8,1033 Z"/>
<path d="M401,1033 L432,1049.5 M480,1075 L488,1079.5 L497,1077.5 L500,1075"/>
<!-- F2 -->
<path class="w" d="M367.2,987 C367.2,985.5 368,984.6 369.5,984.3 L375,981 L561.6,1070 L561.6,1076.4 L544.8,1084.8 L516,1083.6 L370.8,1000 C368.5,999.5 367.2,998.5 367.2,997 Z"/>
<path d="M371,997.5 L417.6,1024 M505,1074.5 L516,1080.5 L544.8,1081.5 L561.6,1073"/>
<!-- F1 -->
<path d="M367.2,981.6 L367.2,969 C367.2,966.5 368.5,965 371,963.8 L406.8,942 L411.6,942 L413.4,943.2 L432,938.4 L558,1012 L561.6,1058.4 L544.8,1066.8 L516,1066.8 L370.8,982.4 C368.5,982.5 367.2,982 367.2,981.6 Z" style="fill:#fff;stroke:none"/>
<path d="M413.4,943.2 L411.6,942 L406.8,942 L371,963.8 C368.5,965 367.2,966.5 367.2,969 L367.2,981.6 C367.2,982 368.5,982.5 370.8,982.4 L516,1066.8 L544.8,1066.8 L561.6,1058.4"/>
<path d="M371,980 L417.6,1007 M505,1057.5 L516,1063.5 L544.8,1063.5 L561.6,1055"/>
<!-- pad -->
<path class="w" d="M387,970.8 L387,958.8 C387,957 388,956 389,955.5 L405.6,946.8 L413.4,943.2 L417.6,940.8 C421,939 424,937.8 428,937.8 C430,937.8 432,938 433,938.5 L556.8,1010.4 C559,1012 559.5,1014 559.2,1016 L558.6,1017 L552,1021.2 L549,1021.8 L541.2,1027.2 C535,1031 528,1036 519.6,1038 C514,1039 509,1039 506.4,1038.6 C504,1038 502.5,1037.5 501.6,1036.8 L388.8,971.4 Z"/>
<path d="M390,968.5 L416.4,984 M496,1030.5 L501.6,1033.5 C505,1035.5 510,1036 515,1035.5 C525,1034 533,1028 540,1023.5"/>
<!-- right posts / frame -->
<path d="M561,1054 L561,1099 M561,1126 L561,1145 M569,1050 L569,1103 M569,1120 L569,1163"/>
<path d="M569,1052.4 L582,1046.4 L583.5,1048 L569,1057.2 M569,1068 L582,1064 L583,1066 L569,1074 M568.5,1126.3 L583,1133.5 L568.5,1139.5 M568.5,1144.3 L583,1151.5 L570.9,1157.6"/>
<path d="M541.2,1027.2 L560.4,1054.8 M550.8,1022.4 L568.8,1050 M553,1021 L564,1027 C568,1030 569,1036 572,1040 L582,1046.4"/>
<path d="M531.6,1038.6 L558.9,1055.3 M551.6,1067.4 L561.3,1073.4"/>
<path d="M569,1082 C574,1086 578,1090 579,1094 L580,1110 C578,1114 573,1117 569,1119"/>
<path d="M529,1093 C529.5,1090 531,1088 533,1088 C535,1088 537,1089 538,1090 L548,1097 C551,1099 553,1101 554,1104 C555,1106 555,1109 554,1110 C553,1112 551,1112 549,1112 M529,1093 C529,1096 530,1099 532,1101 M538,1090 C541,1095 547,1100 553,1106"/>
<path d="M506,1120 L540,1101 M506,1120 L560,1143 M514,1120 L525,1126 L525,1117 M528,1112 L528,1125 L560,1142 M514,1098 C517,1105 520,1110 523,1114"/>
</g>
<!-- bolt 4 -->
<g class="s">
<path d="M572,1229.8 L572,1259.2"/>
<path class="w" d="M555.3,1217.2 L586.8,1199.7 C590,1198.5 594,1199.5 596,1203 C597,1206 597,1211 596.6,1214.4 L563,1234 Z"/>
<path d="M557.0,1217.5 C561.5,1219.0 563.0,1228.0 560.5,1234.0"/>
<path d="M559.9,1215.9 C564.4,1217.4 565.9,1226.4 563.4,1232.4"/>
<path d="M562.8,1214.2 C567.3,1215.7 568.8,1224.7 566.3,1230.7"/>
<path d="M565.7,1212.6 C570.2,1214.1 571.7,1223.1 569.2,1229.1"/>
<path d="M568.6,1211.0 C573.1,1212.5 574.6,1221.5 572.1,1227.5"/>
<path d="M571.5,1209.3 C576.0,1210.8 577.5,1219.8 575.0,1225.8"/>
<path d="M574.5,1207.7 C579.0,1209.2 580.5,1218.2 578.0,1224.2"/>
<path d="M577.4,1206.0 C581.9,1207.5 583.4,1216.5 580.9,1222.5"/>
<path d="M580.3,1204.4 C584.8,1205.9 586.3,1214.9 583.8,1220.9"/>
<path d="M583.2,1202.8 C587.7,1204.3 589.2,1213.3 586.7,1219.3"/>
<path d="M586.1,1201.1 C590.6,1202.6 592.1,1211.6 589.6,1217.6"/>
<path d="M589.0,1199.5 C593.5,1201.0 595.0,1210.0 592.5,1216.0"/>
<path class="w" d="M531.5,1218.6 C533,1215 536,1213 539.2,1213 C542,1213 545,1213.5 547.6,1214.4 C551,1216 554,1218 556,1220 C559,1223 561.5,1226 562.3,1229.8 C563.5,1233 563.7,1236 563.7,1239.6 C563.7,1243 563,1246 561.6,1248 C560,1250 558,1251 556,1250.8 L540,1252 Z"/>
<path d="M533,1223 C538,1218 545,1218 550,1222 C556,1227 559,1235 559,1241 C559,1245 558,1248 556,1249.5"/>
<path class="w" d="M530,1228 L537.8,1220 L546.2,1216.5 L554.6,1228.4 L556,1239.6 L554.6,1248 L547.6,1250.8 L540,1252 Z"/>
<path d="M547.6,1232 L556,1232.5 M547.6,1232 L547.6,1250.8 M537.8,1220 L547.6,1232"/>
<ellipse class="w" cx="536.3" cy="1239.3" rx="11.2" ry="14.3" transform="rotate(15 536.3 1239.3)"/>
<path d="M530.1,1236.8 L540.6,1244.5 M534.3,1232.6 L533.6,1246.6"/>
</g>
</svg></body></html>
